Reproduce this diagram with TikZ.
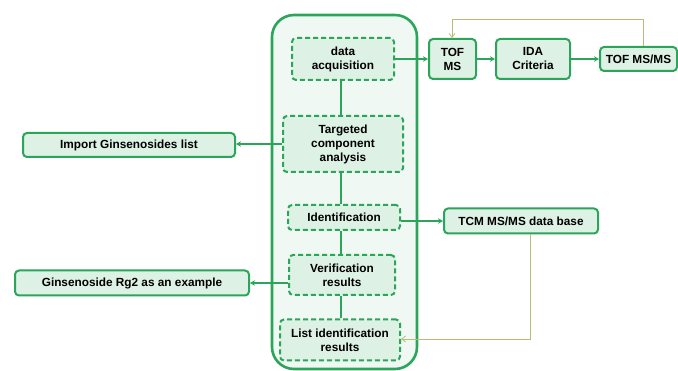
\documentclass[tikz,border=0pt]{standalone}
\usepackage{fontspec}
\setmainfont{Liberation Sans}
\usetikzlibrary{arrows.meta}
\definecolor{edge}{HTML}{2BA55A}
\definecolor{boxfill}{HTML}{DDF1E4}
\definecolor{panel}{HTML}{EFF8F2}
\definecolor{loopline}{HTML}{B9BC78}
\begin{document}
\begin{tikzpicture}[x=1pt,y=-1pt,
  solidbox/.style={draw=edge,fill=boxfill,line width=2pt,rounded corners=4pt,
    font=\bfseries\fontsize{11.8}{14}\selectfont,align=center,inner sep=2pt},
  dashbox/.style={solidbox,dash pattern=on 5pt off 3pt},
  link/.style={draw=edge,line width=2pt},
  arr/.style={link,-{Stealth[length=5pt,width=5.5pt]}},
  loop/.style={draw=loopline,line width=0.8pt,-{Straight Barb[length=4pt,width=6pt]}}]
\useasboundingbox (0,0) rectangle (678,371);
% workflow panel
\draw[draw=edge,fill=panel,line width=2.6pt,rounded corners=22pt] (272,15) rectangle (417,369);
% steps inside the panel
\node[dashbox,minimum width=102pt,minimum height=42pt] (acq) at (343,59) {data\\acquisition};
\node[dashbox,minimum width=120pt,minimum height=56pt] (tca) at (343,144) {Targeted\\component\\analysis};
\node[dashbox,minimum width=112pt,minimum height=25pt] (idt) at (344,217.5) {Identification};
\node[dashbox,minimum width=106pt,minimum height=40pt] (ver) at (342,275) {Verification\\results};
\node[dashbox,minimum width=120pt,minimum height=41pt] (lst) at (340,340) {List identification\\results};
% acquisition chain
\node[solidbox,minimum width=47pt,minimum height=40pt] (tof) at (452.5,59) {TOF\\MS};
\node[solidbox,minimum width=74pt,minimum height=40pt] (ida) at (533,59) {IDA\\Criteria};
\node[solidbox,minimum width=77pt,minimum height=24pt] (tofms) at (638.5,59) {TOF MS/MS};
% side boxes
\node[solidbox,minimum width=212pt,minimum height=24pt] (imp) at (129,145) {Import Ginsenosides list};
\node[solidbox,minimum width=234pt,minimum height=25pt] (rg2) at (132,283) {Ginsenoside Rg2 as an example};
\node[solidbox,minimum width=154pt,minimum height=25pt] (tcm) at (521,221) {TCM MS/MS data base};
% vertical links between steps
\coordinate (spine) at (341,0);
\draw[link] (acq.south -| spine) -- (tca.north -| spine);
\draw[link] (tca.south -| spine) -- (idt.north -| spine);
\draw[link] (idt.south -| spine) -- (ver.north -| spine);
\draw[link] (ver.south -| spine) -- (lst.north -| spine);
% arrows
\draw[arr] (acq) -- (tof);
\draw[arr] (tof) -- (ida);
\draw[arr] (ida) -- (tofms);
\draw[arr] (tca.west) -- (tca.west -| imp.east);
\draw[arr] (ver.west |- rg2.east) -- (rg2.east);
\draw[arr] (idt.east |- tcm.west) -- (tcm.west);
% feedback lines
\draw[loop] (tofms.north -| 643,0) -- (643,19) -- (452,19) -- (tof.north -| 452,0);
\draw[loop] (tcm.south -| 530,0) -- (530,339) -- (lst.east |- 0,339);
\end{tikzpicture}
\end{document}
